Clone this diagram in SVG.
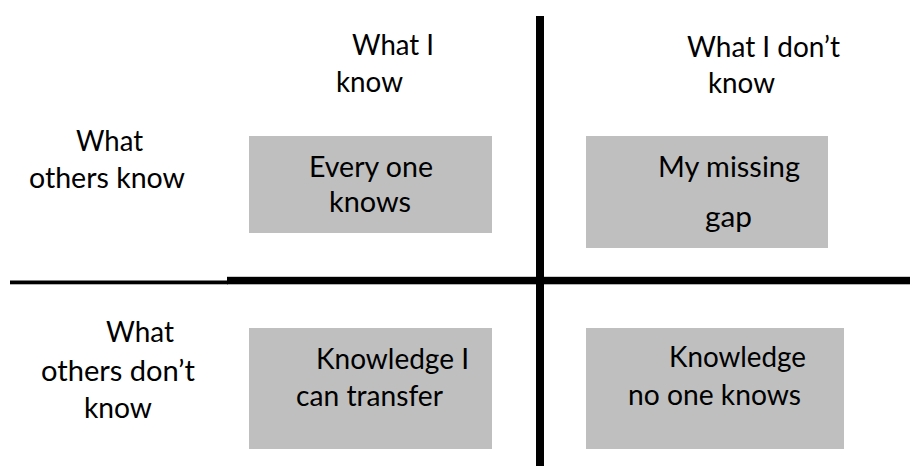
<svg xmlns="http://www.w3.org/2000/svg" width="910" height="466" viewBox="0 0 910 466">
<style>
.box{fill:#bfbfbf}
.line{fill:#000}
text{font-family:Lato,"Open Sans","DejaVu Sans",sans-serif;font-size:28px;fill:#000}
</style>
<rect width="910" height="466" fill="#fff"/>
<g id="dividers">
<rect class="line" x="10" y="280.5" width="218" height="3.8"/>
<rect class="line" x="227" y="276.8" width="683" height="7.5"/>
<rect class="line" x="536" y="16" width="8" height="450"/>
</g>
<g id="header-know">
<text x="352" y="55" textLength="82" lengthAdjust="spacingAndGlyphs">What I</text>
<text x="336" y="92" textLength="67" lengthAdjust="spacingAndGlyphs">know</text>
</g>
<g id="header-dont-know">
<text x="687" y="57" textLength="153" lengthAdjust="spacingAndGlyphs">What I don’t</text>
<text x="708" y="93" textLength="67" lengthAdjust="spacingAndGlyphs">know</text>
</g>
<g id="row-others-know">
<text x="76" y="151" textLength="67" lengthAdjust="spacingAndGlyphs">What</text>
<text x="29" y="188" textLength="156" lengthAdjust="spacingAndGlyphs">others know</text>
</g>
<g id="row-others-dont-know">
<text x="106" y="342" textLength="68" lengthAdjust="spacingAndGlyphs">What</text>
<text x="41" y="381" textLength="154" lengthAdjust="spacingAndGlyphs">others don’t</text>
<text x="84" y="418" textLength="68" lengthAdjust="spacingAndGlyphs">know</text>
</g>
<g id="box-every-one-knows">
<rect class="box" x="249" y="136" width="243" height="97"/>
<text x="309" y="177" textLength="124" lengthAdjust="spacingAndGlyphs">Every one</text>
<text x="329" y="212" textLength="82" lengthAdjust="spacingAndGlyphs">knows</text>
</g>
<g id="box-my-missing-gap">
<rect class="box" x="586" y="136" width="242" height="112"/>
<text x="658" y="177" textLength="142" lengthAdjust="spacingAndGlyphs">My missing</text>
<text x="705" y="227" textLength="47" lengthAdjust="spacingAndGlyphs">gap</text>
</g>
<g id="box-knowledge-transfer">
<rect class="box" x="249" y="328" width="243" height="121"/>
<text x="316" y="369" textLength="153" lengthAdjust="spacingAndGlyphs">Knowledge I</text>
<text x="296" y="406" textLength="147" lengthAdjust="spacingAndGlyphs">can transfer</text>
</g>
<g id="box-knowledge-no-one">
<rect class="box" x="586" y="328" width="258" height="121"/>
<text x="669" y="367" textLength="137" lengthAdjust="spacingAndGlyphs">Knowledge</text>
<text x="628" y="405" textLength="173" lengthAdjust="spacingAndGlyphs">no one knows</text>
</g>
</svg>
